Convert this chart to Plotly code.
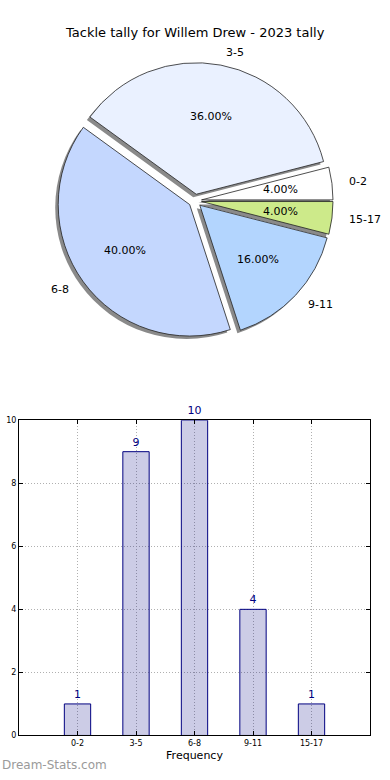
import math
import plotly.graph_objects as go

# ---- data ----
categories = ["0-2", "3-5", "6-8", "9-11", "15-17"]
counts = [1, 9, 10, 4, 1]
pie_colors = ["#ffffff", "#eaf1ff", "#c4d7fe", "#b3d5fe", "#cdea8a"]
title_text = "Tackle tally for Willem Drew - 2023 tally"

W, H = 390, 780
PULL = 0.05
# pie placement (pixels)
CX, CY, R = 195, 199, 133
half = R * (1 + PULL)
total = sum(counts)
# plotly's counterclockwise pies end the first slice at `rotation`; start it at 3 o'clock instead
ROT = 90 - 360 * counts[0] / total


def px_dom(cx, cy, h):
    return dict(x=[(cx - h) / W, (cx + h) / W], y=[1 - (cy + h) / H, 1 - (cy - h) / H])


fig = go.Figure()

# shadow pie
fig.add_trace(go.Pie(
    labels=categories, values=counts, sort=False, direction="counterclockwise",
    rotation=ROT, pull=[PULL] * len(counts),
    marker=dict(colors=["#8a8a8a"] * len(counts), line=dict(width=0)),
    textinfo="none", hoverinfo="skip", showlegend=False,
    domain=px_dom(CX - 3, CY + 3, half),
))
# main pie
fig.add_trace(go.Pie(
    labels=categories, values=counts, sort=False, direction="counterclockwise",
    rotation=ROT, pull=[PULL] * len(counts),
    marker=dict(colors=pie_colors, line=dict(color="#222222", width=0.8)),
    textinfo="none", showlegend=False,
    domain=px_dom(CX, CY, half),
))

# pie text annotations computed from data
cum = 0
annotations = []
for lab, v in zip(categories, counts):
    mid = 2 * math.pi * (cum + v / 2) / total
    cum += v
    c, s = math.cos(mid), math.sin(mid)
    d = 0.6 * R + PULL * R
    annotations.append(dict(
        x=(CX + d * c) / W, y=1 - (CY - d * s) / H, xref="paper", yref="paper",
        text=f"{100 * v / total:.2f}%", showarrow=False,
        font=dict(family="DejaVu Sans", size=11, color="black"),
        xanchor="center", yanchor="middle"))
    d2 = 1.1 * R + PULL * R
    annotations.append(dict(
        x=(CX + d2 * c) / W, y=1 - (CY - d2 * s) / H, xref="paper", yref="paper",
        text=lab, showarrow=False,
        font=dict(family="DejaVu Sans", size=11, color="black"),
        xanchor="left" if c > 0 else "right", yanchor="middle"))

# bar chart
fig.add_trace(go.Bar(
    x=categories, y=counts, width=0.45,
    marker=dict(color="rgba(0,0,128,0.2)", line=dict(color="#000080", width=1)),
    text=[str(v) for v in counts], textposition="outside", cliponaxis=False,
    textfont=dict(family="DejaVu Sans", size=11, color="#000080"),
    showlegend=False, xaxis="x", yaxis="y",
))

annotations.append(dict(
    x=0.5, y=1 - 29 / H, xref="paper", yref="paper", text=title_text,
    showarrow=False, font=dict(family="DejaVu Sans", size=13, color="black"),
    xanchor="center", yanchor="middle"))
annotations.append(dict(
    x=0, y=1 - 770 / H, xref="paper", yref="paper", text="Dream-Stats.com",
    showarrow=False, font=dict(family="DejaVu Sans", size=12, color="#9a9a9a"),
    xanchor="left", yanchor="middle"))
annotations.append(dict(
    x=-5 / W, y=1 - 580 / H, xref="paper", yref="paper", text="Occurrences",
    textangle=-90, showarrow=False,
    font=dict(family="DejaVu Sans", size=11, color="black"),
    xanchor="center", yanchor="middle"))

axis_common = dict(showline=True, mirror="ticks", linecolor="black", linewidth=1,
                   ticks="inside", ticklen=4, tickcolor="black",
                   showgrid=True, gridcolor="#b0b0b0", griddash="1px,2px", gridwidth=1,
                   zeroline=False,
                   tickfont=dict(family="DejaVu Sans", size=8, color="black"))

fig.update_layout(
    width=W, height=H, margin=dict(l=0, r=0, t=0, b=0), autosize=False,
    paper_bgcolor="white", plot_bgcolor="white",
    xaxis=dict(domain=[19 / W, 370 / W], anchor="y", type="category", range=[-1, 5],
               title=dict(text="Frequency", standoff=4,
                          font=dict(family="DejaVu Sans", size=11, color="black")),
               **axis_common),
    yaxis=dict(domain=[1 - 740 / H, 1 - 421 / H], anchor="x", range=[0, 10],
               tickvals=[0, 2, 4, 6, 8, 10], **axis_common),
    annotations=annotations,
    font=dict(family="DejaVu Sans"),
)

fig.write_html(
    "out.html",
    config={"displayModeBar": False, "responsive": False},
    post_script=(
        "var s=document.documentElement.style, b=document.body.style;"
        "b.margin='0px'; b.padding='0px'; b.overflow='hidden'; b.height='780px'; b.width='390px';"
        "s.overflow='hidden'; s.height='780px'; s.width='390px';"
        "var g=document.getElementById('{plot_id}'); g.style.overflow='hidden';"
        "if (g.parentNode) { g.parentNode.style.height='780px'; g.parentNode.style.overflow='hidden'; }"
    ),
)
